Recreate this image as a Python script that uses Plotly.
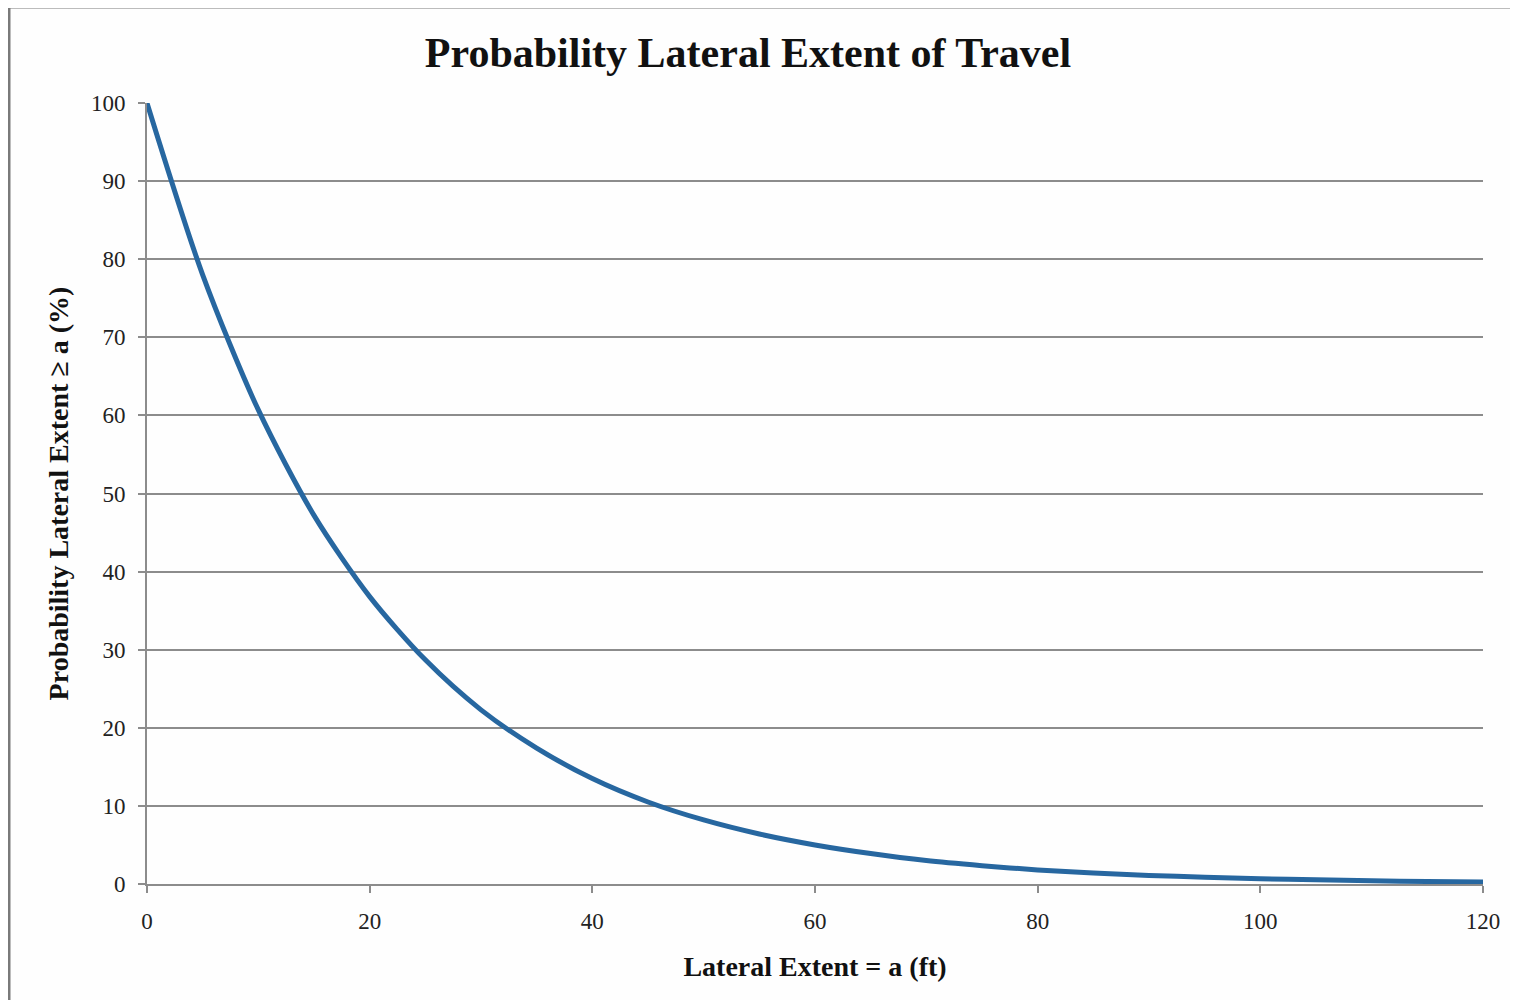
import plotly.graph_objects as go

# Lateral extent a (ft)
lateral_extent_ft = [0, 5, 10, 15, 20, 25, 30, 35, 40, 45, 50, 55, 60,
                     65, 70, 75, 80, 85, 90, 95, 100, 105, 110, 115, 120]
# Probability lateral extent >= a (%)
probability_pct = [100, 78, 60.7, 47.2, 36.8, 28.7, 22.3, 17.4, 13.5, 10.5, 8.2, 6.4, 5.0,
                   3.9, 3.0, 2.35, 1.8, 1.4, 1.1, 0.87, 0.68, 0.53, 0.41, 0.32, 0.25]

x_ticks = [0, 20, 40, 60, 80, 100, 120]
y_ticks = [0, 10, 20, 30, 40, 50, 60, 70, 80, 90, 100]

OFF = 8  # page body margin
W, H = 1518 - OFF, 1000 - OFF
L, R, T, B = 147 - OFF, 1518 - 1483, 103 - OFF, 116
pw, ph = W - L - R, H - T - B

def px(xp):
    return (xp - OFF - L) / pw

def py(yp):
    return (H - B - (yp - OFF)) / ph

FONT = "Liberation Serif"
GRID = "#8c8c8c"

fig = go.Figure()
fig.add_trace(go.Scatter(
    x=lateral_extent_ft, y=probability_pct, mode="lines",
    line=dict(color="#2767a0", width=5, shape="spline", smoothing=0.8),
    showlegend=False, cliponaxis=False,
))

fig.update_layout(
    width=W, height=H,
    margin=dict(l=L, r=R, t=T, b=B, autoexpand=False),
    paper_bgcolor="#fefefe", plot_bgcolor="#fefefe",
    font=dict(family=FONT, color="#1a1a1a"),
    title=dict(text="<b>Probability Lateral Extent of Travel</b>",
               x=(748 - OFF) / W, xanchor="center", y=1 - (52 - OFF) / H, yanchor="middle",
               font=dict(family=FONT, size=42, color="#111111")),
    xaxis=dict(range=[0, 120], tickvals=x_ticks, ticktext=[str(v) for v in x_ticks],
               showgrid=False, zeroline=False, showline=True, linecolor=GRID, linewidth=2,
               ticks="outside", ticklen=7, tickwidth=2, tickcolor=GRID,
               ticklabelstandoff=8,
               tickfont=dict(family=FONT, size=23, color="#222222"),
               title=dict(text="<b>Lateral Extent = a (ft)</b>", standoff=24,
                          font=dict(family=FONT, size=28, color="#111111"))),
    yaxis=dict(range=[0, 100], tickvals=y_ticks, ticktext=[str(v) for v in y_ticks],
               showgrid=True, gridcolor=GRID, gridwidth=2, zeroline=False,
               showline=True, linecolor=GRID, linewidth=2,
               ticks="outside", ticklen=7, tickwidth=2, tickcolor=GRID,
               ticklabelstandoff=8,
               tickfont=dict(family=FONT, size=23, color="#222222"),
               title=dict(text="<b>Probability Lateral Extent \u2265 a (%)</b>", standoff=14,
                          font=dict(family=FONT, size=28, color="#111111"))),
)

# outer chart frame (top and left edges visible)
fig.add_shape(type="line", xref="paper", yref="paper",
              x0=px(9), x1=px(1518 + 20), y0=py(7), y1=py(7),
              line=dict(color="#7a7a7a", width=3))
fig.add_shape(type="line", xref="paper", yref="paper",
              x0=px(9), x1=px(9), y0=py(7), y1=py(1000 + 20),
              line=dict(color="#7a7a7a", width=3))

fig.write_html("out.html")
